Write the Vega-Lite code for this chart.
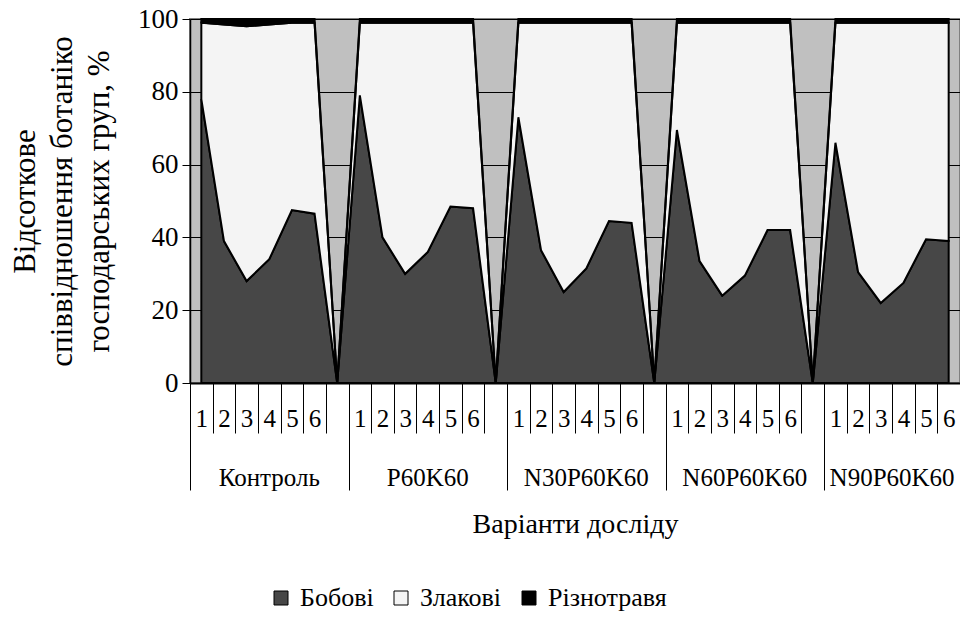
{
  "$schema": "https://vega.github.io/schema/vega-lite/v6.json",
  "width": 770,
  "height": 364,
  "autosize": {"type": "none"},
  "padding": {"left": 190, "top": 19, "right": 0, "bottom": 246},
  "background": "white",
  "config": {
    "font": "'Liberation Serif', 'Times New Roman', 'DejaVu Serif', serif",
    "view": {"fill": "#c0c0c0", "stroke": "#808080", "strokeWidth": 2},
    "axis": {
      "domainColor": "black",
      "tickColor": "black",
      "labelColor": "black",
      "titleColor": "black",
      "labelFont": "'Liberation Serif', 'Times New Roman', 'DejaVu Serif', serif",
      "titleFont": "'Liberation Serif', 'Times New Roman', 'DejaVu Serif', serif",
      "titleFontWeight": "normal"
    },
    "legend": {
      "labelFont": "'Liberation Serif', 'Times New Roman', 'DejaVu Serif', serif",
      "labelColor": "black"
    }
  },
  "data": {
    "values": [
      {"slot": "Контроль|1", "Бобові": 78, "Злакові": 21, "Різнотравя": 1},
      {"slot": "Контроль|2", "Бобові": 39, "Злакові": 59.5, "Різнотравя": 1.5},
      {"slot": "Контроль|3", "Бобові": 28, "Злакові": 70, "Різнотравя": 2},
      {"slot": "Контроль|4", "Бобові": 34, "Злакові": 64.5, "Різнотравя": 1.5},
      {"slot": "Контроль|5", "Бобові": 47.5, "Злакові": 51.5, "Різнотравя": 1},
      {"slot": "Контроль|6", "Бобові": 46.5, "Злакові": 52.5, "Різнотравя": 1},
      {"slot": "Контроль|", "Бобові": 0, "Злакові": 0, "Різнотравя": 0},
      {"slot": "P60K60|1", "Бобові": 79, "Злакові": 20, "Різнотравя": 1},
      {"slot": "P60K60|2", "Бобові": 40, "Злакові": 59, "Різнотравя": 1},
      {"slot": "P60K60|3", "Бобові": 30, "Злакові": 69, "Різнотравя": 1},
      {"slot": "P60K60|4", "Бобові": 36, "Злакові": 63, "Різнотравя": 1},
      {"slot": "P60K60|5", "Бобові": 48.5, "Злакові": 50.5, "Різнотравя": 1},
      {"slot": "P60K60|6", "Бобові": 48, "Злакові": 51, "Різнотравя": 1},
      {"slot": "P60K60|", "Бобові": 0, "Злакові": 0, "Різнотравя": 0},
      {"slot": "N30P60K60|1", "Бобові": 73, "Злакові": 26, "Різнотравя": 1},
      {"slot": "N30P60K60|2", "Бобові": 36.5, "Злакові": 62.5, "Різнотравя": 1},
      {"slot": "N30P60K60|3", "Бобові": 25, "Злакові": 74, "Різнотравя": 1},
      {"slot": "N30P60K60|4", "Бобові": 31.5, "Злакові": 67.5, "Різнотравя": 1},
      {"slot": "N30P60K60|5", "Бобові": 44.5, "Злакові": 54.5, "Різнотравя": 1},
      {"slot": "N30P60K60|6", "Бобові": 44, "Злакові": 55, "Різнотравя": 1},
      {"slot": "N30P60K60|", "Бобові": 0, "Злакові": 0, "Різнотравя": 0},
      {"slot": "N60P60K60|1", "Бобові": 69.5, "Злакові": 29.5, "Різнотравя": 1},
      {"slot": "N60P60K60|2", "Бобові": 33.5, "Злакові": 65.5, "Різнотравя": 1},
      {"slot": "N60P60K60|3", "Бобові": 24, "Злакові": 75, "Різнотравя": 1},
      {"slot": "N60P60K60|4", "Бобові": 29.5, "Злакові": 69.5, "Різнотравя": 1},
      {"slot": "N60P60K60|5", "Бобові": 42, "Злакові": 57, "Різнотравя": 1},
      {"slot": "N60P60K60|6", "Бобові": 42, "Злакові": 57, "Різнотравя": 1},
      {"slot": "N60P60K60|", "Бобові": 0, "Злакові": 0, "Різнотравя": 0},
      {"slot": "N90P60K60|1", "Бобові": 66, "Злакові": 33, "Різнотравя": 1},
      {"slot": "N90P60K60|2", "Бобові": 30.5, "Злакові": 68.5, "Різнотравя": 1},
      {"slot": "N90P60K60|3", "Бобові": 22, "Злакові": 77, "Різнотравя": 1},
      {"slot": "N90P60K60|4", "Бобові": 27.5, "Злакові": 71.5, "Різнотравя": 1},
      {"slot": "N90P60K60|5", "Бобові": 39.5, "Злакові": 59.5, "Різнотравя": 1},
      {"slot": "N90P60K60|6", "Бобові": 39, "Злакові": 60, "Різнотравя": 1}
    ]
  },
  "transform": [
    {"fold": ["Бобові", "Злакові", "Різнотравя"], "as": ["група", "частка"]}
  ],
  "layer": [
    {
      "mark": {"type": "area", "stroke": "black", "strokeWidth": 2, "strokeJoin": "miter", "opacity": 1},
      "encoding": {
        "x": {
          "field": "slot",
          "type": "ordinal",
          "sort": null,
          "bandPosition": 0.5,
          "scale": {"type": "band", "paddingInner": 0, "paddingOuter": 0},
          "axis": {
            "orient": "bottom",
            "title": null,
            "labelExpr": "split(datum.value, '|')[1]",
            "labelAngle": 0,
            "labelFontSize": 25,
            "labelBaseline": "middle",
            "labelPadding": -15,
            "tickBand": "extent",
            "tickSize": {
              "condition": {"test": "!datum.value || test(/\\|$/, datum.value)", "value": 107},
              "value": 50
            },
            "tickWidth": 1,
            "domainWidth": 2,
            "grid": false
          }
        },
        "y": {
          "field": "частка",
          "type": "quantitative",
          "stack": "zero",
          "scale": {"domain": [0, 100], "nice": false},
          "axis": {
            "values": [0, 20, 40, 60, 80, 100],
            "grid": true,
            "gridColor": "black",
            "gridWidth": 1,
            "gridOpacity": 1,
            "tickSize": 8,
            "labelFontSize": 27,
            "labelPadding": 4,
            "domainWidth": 1.5,
            "title": ["Відсоткове", "співвідношення ботаніко", "господарських груп, %"],
            "titleFontSize": 31,
            "titleLineHeight": 37,
            "titlePadding": 22
          }
        },
        "color": {
          "field": "група",
          "type": "nominal",
          "sort": ["Бобові", "Злакові", "Різнотравя"],
          "scale": {
            "domain": ["Бобові", "Злакові", "Різнотравя"],
            "range": ["#474747", "#f4f4f4", "#000000"]
          },
          "legend": {
            "orient": "none",
            "legendX": 78,
            "legendY": 566,
            "direction": "horizontal",
            "title": null,
            "symbolType": "square",
            "symbolSize": 196,
            "symbolStrokeColor": "black",
            "symbolStrokeWidth": 1,
            "labelFontSize": 26,
            "labelOffset": 6,
            "columnPadding": 14
          }
        },
        "order": {"field": "група", "type": "ordinal", "sort": "ascending"}
      }
    },
    {
      "mark": {"type": "point", "opacity": 0},
      "encoding": {
        "x": {
          "field": "slot",
          "type": "ordinal",
          "sort": null,
          "axis": {
            "orient": "bottom",
            "values": ["Контроль|4", "P60K60|4", "N30P60K60|4", "N60P60K60|4", "N90P60K60|4"],
            "labelExpr": "split(datum.value, '|')[0]",
            "ticks": false,
            "domain": false,
            "grid": false,
            "labelAngle": 0,
            "labelFontSize": 25,
            "labelBaseline": "middle",
            "labelPadding": 94,
            "labelOffset": {
              "condition": {"test": "datum.value == 'N90P60K60|4'", "value": -11.3},
              "value": 0
            },
            "title": "Варіанти досліду",
            "titleFontSize": 28,
            "titlePadding": 20
          }
        }
      }
    }
  ],
  "resolve": {"axis": {"x": "independent"}}
}
